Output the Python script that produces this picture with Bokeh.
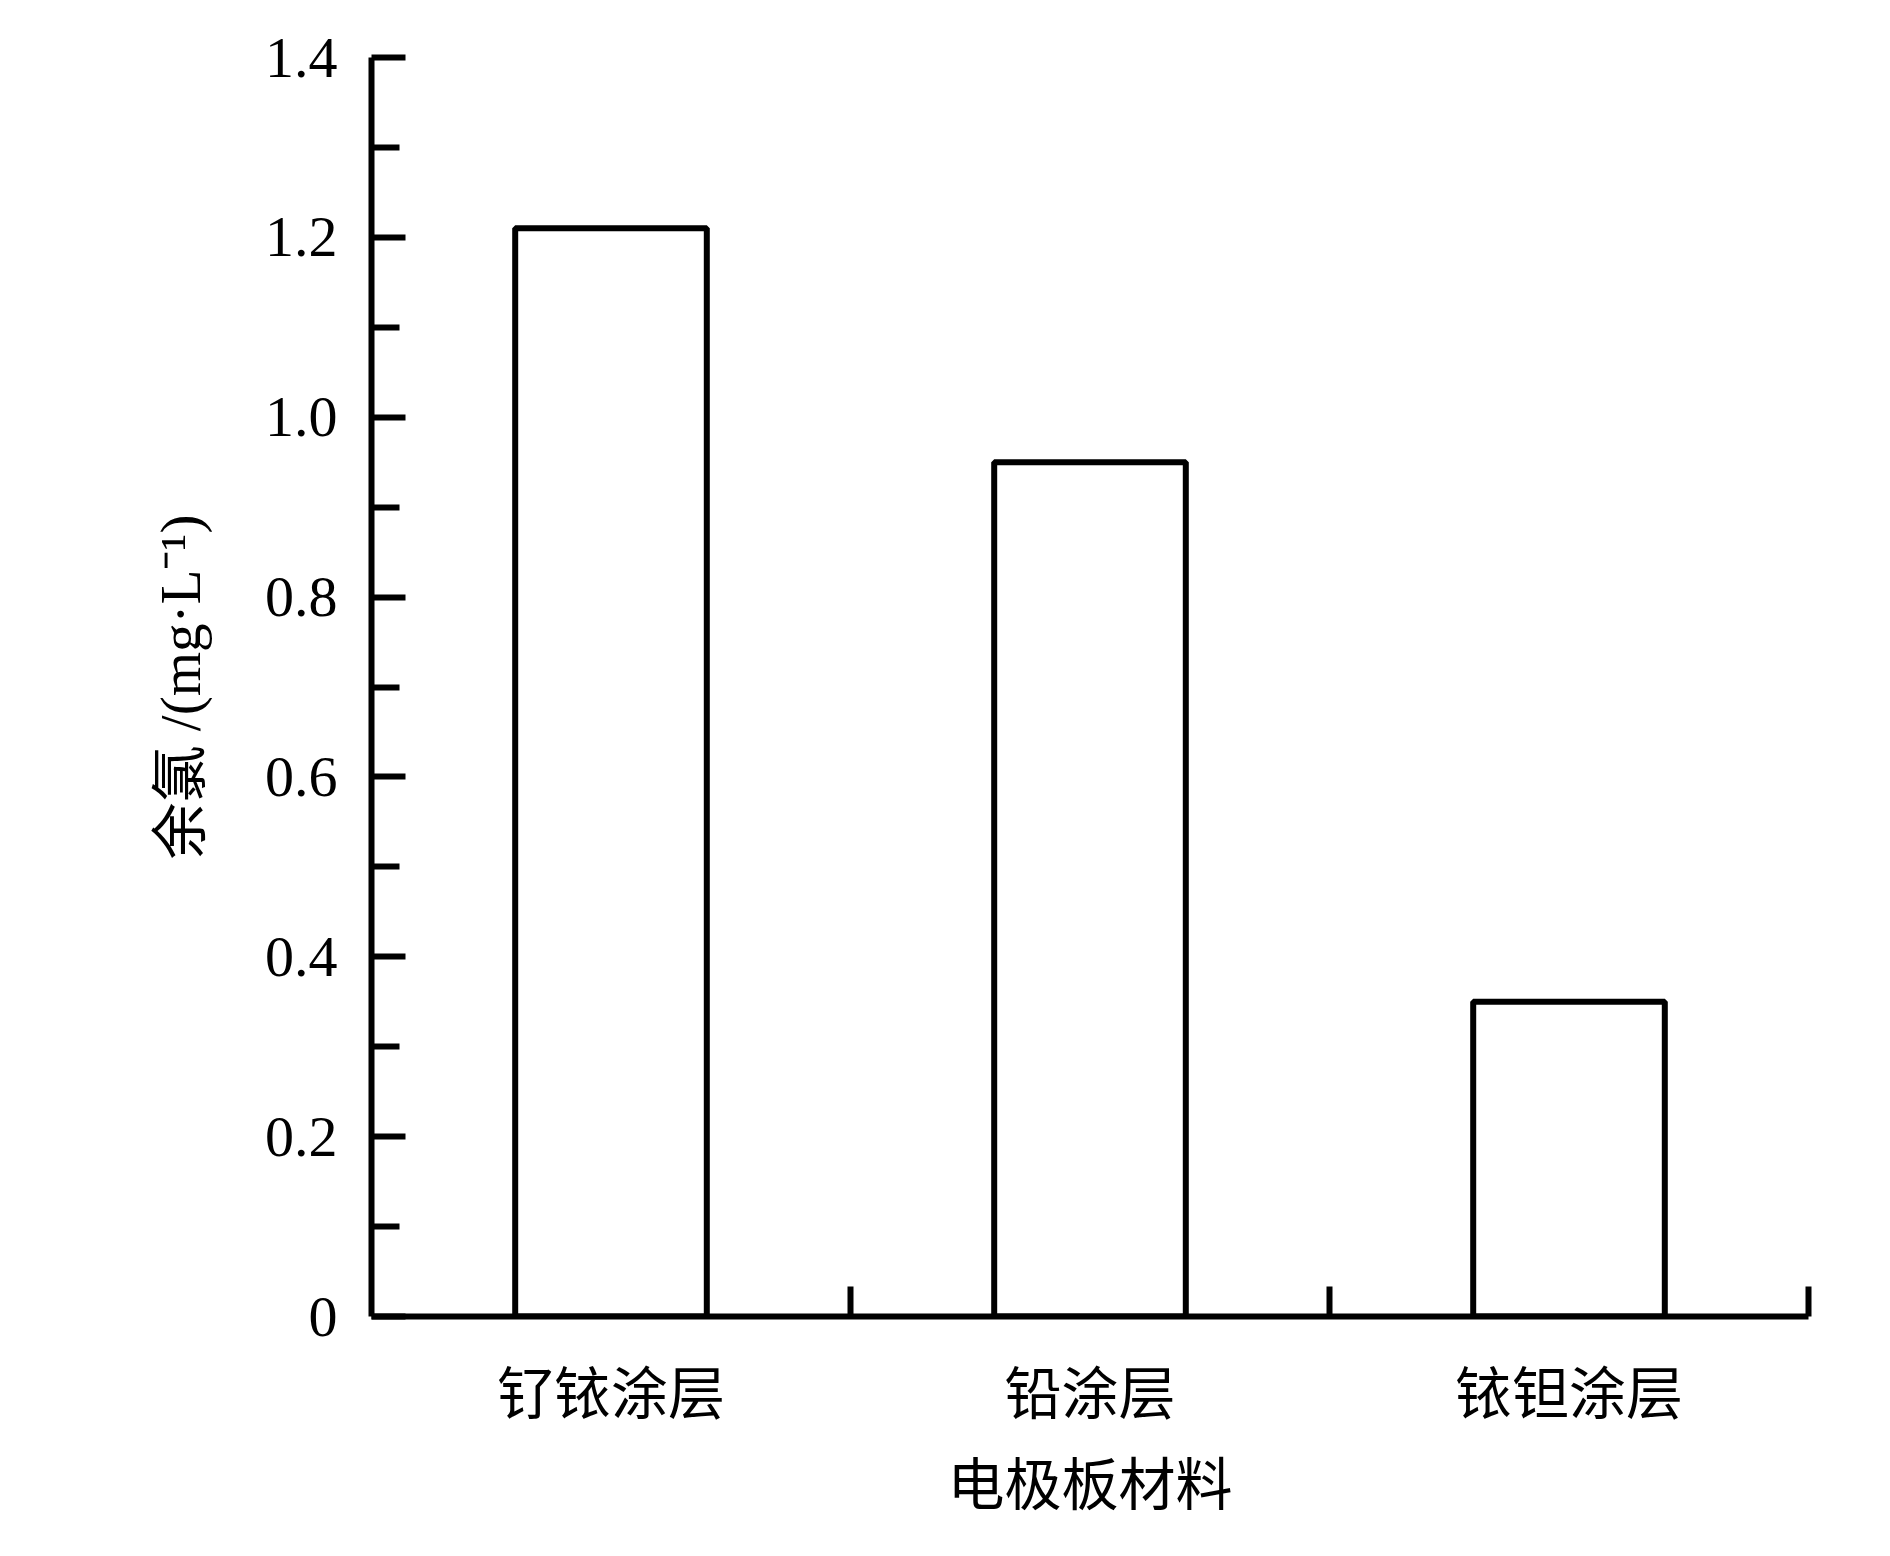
from bokeh.plotting import figure
from bokeh.models import FixedTicker, Range1d
from bokeh.embed import file_html
from bokeh.resources import INLINE

# ---- data ----
categories = ["钌铱涂层", "铅涂层", "铱钽涂层"]
residual_chlorine = [1.21, 0.95, 0.35]
x_positions = [0.5, 1.5, 2.5]
x_boundaries = [1, 2, 3]
y_major = [0, 0.2, 0.4, 0.6, 0.8, 1.0, 1.2, 1.4]
y_labels = ["0", "0.2", "0.4", "0.6", "0.8", "1.0", "1.2", "1.4"]
y_minor = [0.1, 0.3, 0.5, 0.7, 0.9, 1.1, 1.3]
x_title = "电极板材料"
y_title = "余氯 /(mg·L⁻¹)"

SERIF = "'Liberation Serif', 'Times New Roman', serif"
CJK = "'Noto Sans CJK SC'"
MIXED = "'Liberation Serif', 'Noto Sans CJK SC'"

p = figure(width=1874, height=1540, output_backend="svg", toolbar_location=None,
           x_range=Range1d(0, 3), y_range=Range1d(0, 1.4),
           min_border_left=371, min_border_right=66,
           min_border_top=57, min_border_bottom=224)

p.vbar(x=x_positions, top=residual_chlorine, bottom=0, width=0.4,
       fill_color="white", line_color="black", line_width=6)

p.xgrid.visible = False
p.ygrid.visible = False
p.outline_line_color = None
p.background_fill_color = "white"
p.border_fill_color = "white"

# y axis
ya = p.yaxis[0]
ya.ticker = FixedTicker(ticks=y_major, minor_ticks=y_minor)
ya.major_label_overrides = dict(zip(y_major, y_labels))
ya.axis_line_width = 6
ya.axis_line_color = "black"
ya.major_tick_line_width = 6
ya.minor_tick_line_width = 6
ya.major_tick_line_color = "black"
ya.minor_tick_line_color = "black"
ya.major_tick_in = 34
ya.major_tick_out = 0
ya.minor_tick_in = 28
ya.minor_tick_out = 0
ya.major_label_text_font = SERIF
ya.major_label_text_font_size = "58px"
ya.major_label_text_color = "black"
ya.major_label_standoff = 34
ya.axis_label = y_title
ya.axis_label_text_font = MIXED
ya.axis_label_text_font_size = "57px"
ya.axis_label_text_font_style = "normal"
ya.axis_label_text_color = "black"
ya.axis_label_standoff = 50

# x axis
xa = p.xaxis[0]
xa.ticker = FixedTicker(ticks=x_positions, minor_ticks=x_boundaries)
xa.major_label_overrides = dict(zip(x_positions, categories))
xa.axis_line_width = 6
xa.axis_line_color = "black"
xa.major_tick_in = 0
xa.major_tick_out = 0
xa.minor_tick_in = 30
xa.minor_tick_out = 0
xa.minor_tick_line_width = 6
xa.minor_tick_line_color = "black"
xa.major_label_text_font = CJK
xa.major_label_text_font_size = "57px"
xa.major_label_text_color = "black"
xa.major_label_standoff = 31
xa.axis_label = x_title
xa.axis_label_text_font = CJK
xa.axis_label_text_font_size = "57px"
xa.axis_label_text_font_style = "normal"
xa.axis_label_text_color = "black"
xa.axis_label_standoff = 6

open("out.html", "w").write(file_html(p, INLINE))
